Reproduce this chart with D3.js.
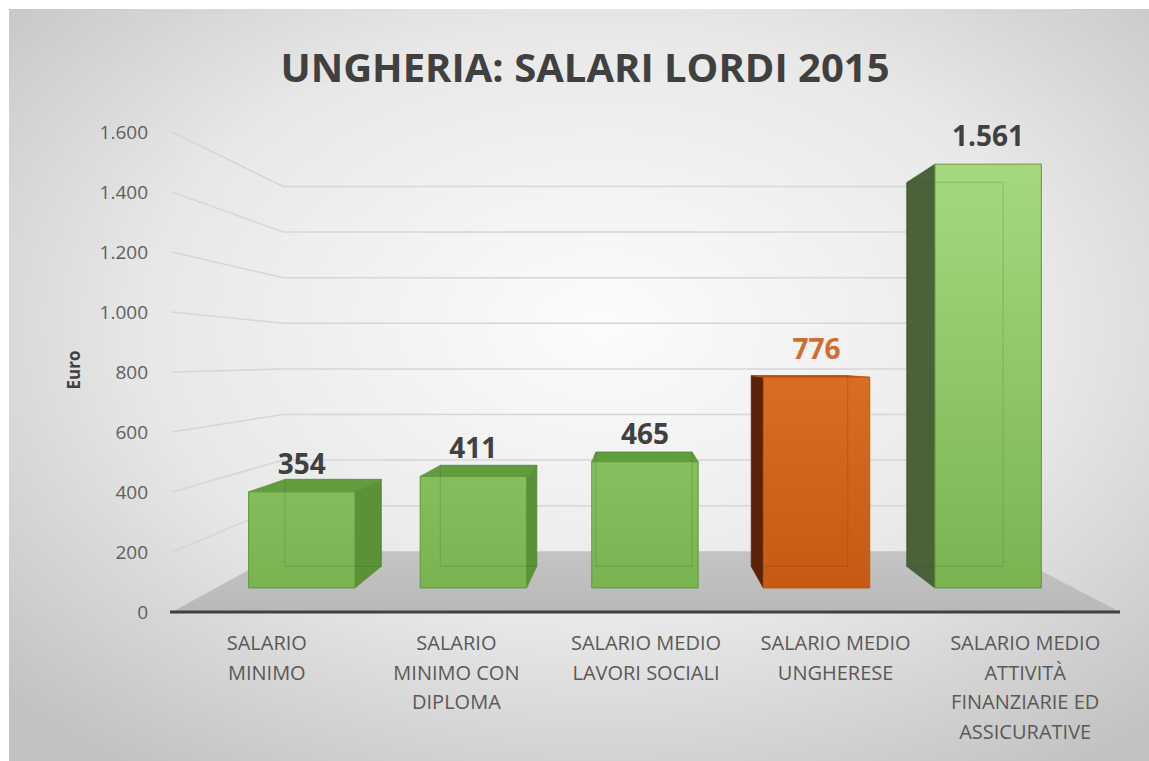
<!DOCTYPE html>
<html>
<head>
<meta charset="utf-8">
<script src="https://cdn.jsdelivr.net/npm/d3@7"></script>
<style>
  body { margin: 0; background: #fff; }
  text { font-family: "Open Sans", "DejaVu Sans", sans-serif; }
</style>
</head>
<body>
<svg width="1149" height="761"></svg>
<script>
// data
var categories = ["SALARIO MINIMO", "SALARIO MINIMO CON DIPLOMA", "SALARIO MEDIO LAVORI SOCIALI",
                  "SALARIO MEDIO UNGHERESE", "SALARIO MEDIO ATTIVITÀ FINANZIARIE ED ASSICURATIVE"];
var catLines = [["SALARIO", "MINIMO"], ["SALARIO", "MINIMO CON", "DIPLOMA"], ["SALARIO MEDIO", "LAVORI SOCIALI"],
                ["SALARIO MEDIO", "UNGHERESE"], ["SALARIO MEDIO", "ATTIVITÀ", "FINANZIARIE ED", "ASSICURATIVE"]];
var values = [354, 411, 465, 776, 1561];
var highlight = [0, 0, 0, 1, 0];
var ticks = [0, 200, 400, 600, 800, 1000, 1200, 1400, 1600];
var title = "UNGHERIA: SALARI LORDI 2015";
var yTitle = "Euro";

var it = d3.formatLocale({decimal: ",", thousands: ".", grouping: [3], currency: ["€", ""]});
var fmt = it.format(",d");

var svg = d3.select("svg");

// perspective settings
var vpX = 635, vpY = 359;      // vanishing point
var floorBack = 0.76, barFront = 0.905, barBack = 0.82;
function P(px, py, s) { return [vpX + s * (px - vpX), vpY + s * (py - vpY)]; }

var x = d3.scaleBand().domain(categories).range([172, 1120]).paddingInner(0.38).paddingOuter(0.19);
var y = d3.scaleLinear().domain([0, 1600]).range([612, 132]);

var defs = svg.append("defs");
var bg = defs.append("radialGradient").attr("id", "bg").attr("cx", "52%").attr("cy", "42%").attr("r", "72%");
bg.append("stop").attr("offset", "0%").attr("stop-color", "#fcfcfc");
bg.append("stop").attr("offset", "55%").attr("stop-color", "#e8e8e8");
bg.append("stop").attr("offset", "100%").attr("stop-color", "#c2c2c2");

var gf = defs.append("linearGradient").attr("id", "gFront").attr("gradientUnits", "userSpaceOnUse")
  .attr("x1", 0).attr("x2", 0).attr("y1", 160).attr("y2", 590);
gf.append("stop").attr("offset", "0%").attr("stop-color", "#a6d97f");
gf.append("stop").attr("offset", "100%").attr("stop-color", "#79b451");

var of = defs.append("linearGradient").attr("id", "oFront").attr("x1", 0).attr("x2", 0).attr("y1", 0).attr("y2", 1);
of.append("stop").attr("offset", "0%").attr("stop-color", "#d96d22");
of.append("stop").attr("offset", "100%").attr("stop-color", "#c65a12");

var floorG = defs.append("linearGradient").attr("id", "floorG").attr("x1", 0).attr("x2", 0).attr("y1", 0).attr("y2", 1);
floorG.append("stop").attr("offset", "0%").attr("stop-color", "#c4c4c4");
floorG.append("stop").attr("offset", "100%").attr("stop-color", "#b9b9b9");

svg.append("rect").attr("x", 9).attr("y", 9).attr("width", 1140).attr("height", 752).attr("fill", "url(#bg)");

// title
svg.append("text")
  .attr("x", 585).attr("y", 82)
  .attr("text-anchor", "middle")
  .attr("font-size", "40px")
  .attr("font-weight", "bold")
  .attr("fill", "#404040")
  .text(title);

var line = d3.line();
var xL = x.range()[0], xR = x.range()[1];

// floor
svg.append("path")
  .attr("d", line([P(xL, y(0), 1), P(xL, y(0), floorBack), P(xR, y(0), floorBack), P(xR, y(0), 1)]) + "Z")
  .attr("fill", "url(#floorG)");

// gridlines on side and back wall
svg.append("g").selectAll("path")
  .data(ticks.filter(function (d) { return d > 0; }))
  .enter()
  .append("path")
  .attr("d", function (d) {
    return line([P(xL, y(d), 1), P(xL, y(d), floorBack), P(xR, y(d), floorBack)]);
  })
  .attr("fill", "none")
  .attr("stroke", "#d6d6d6")
  .attr("stroke-width", 1.5);

// tick labels
svg.append("g").selectAll("text")
  .data(ticks)
  .enter()
  .append("text")
  .attr("x", 148)
  .attr("y", function (d) { return y(d) + 7; })
  .attr("text-anchor", "end")
  .attr("font-size", "19px")
  .attr("fill", "#5f5f5f")
  .text(function (d) { return fmt(d); });

svg.append("text")
  .attr("transform", "translate(80,370) rotate(-90)")
  .attr("text-anchor", "middle")
  .attr("font-size", "17px")
  .attr("font-weight", "bold")
  .attr("fill", "#404040")
  .text(yTitle);

// bars
var bw = x.bandwidth();
var bars = svg.append("g");
values.forEach(function (v, i) {
  var x0 = x(categories[i]), x1 = x0 + bw, yt = y(v), yb = y(0);
  var hot = highlight[i] === 1;
  var g = bars.append("g");
  var edge = hot ? "#c0580f" : "#5e973b";

  // faint back edges seen through the bar
  var backLines = [
    [P(x0, yt, barBack), P(x0, yb, barBack)],
    [P(x1, yt, barBack), P(x1, yb, barBack)],
    [P(x0, yt, barBack), P(x1, yt, barBack)],
    [P(x0, yb, barBack), P(x1, yb, barBack)]
  ];

  if (x1 < vpX) {
    g.append("path")
      .attr("d", line([P(x1, yt, barFront), P(x1, yt, barBack), P(x1, yb, barBack), P(x1, yb, barFront)]) + "Z")
      .attr("fill", hot ? "#7a2f08" : "#5b9238").attr("stroke", edge).attr("stroke-width", 0.8);
  }
  if (x0 > vpX) {
    g.append("path")
      .attr("d", line([P(x0, yt, barFront), P(x0, yt, barBack), P(x0, yb, barBack), P(x0, yb, barFront)]) + "Z")
      .attr("fill", hot ? "#5c2205" : "#4b6139").attr("stroke", hot ? "#5c2205" : "#4b6139").attr("stroke-width", 0.8);
  }
  if (yt > vpY) {
    g.append("path")
      .attr("d", line([P(x0, yt, barFront), P(x1, yt, barFront), P(x1, yt, barBack), P(x0, yt, barBack)]) + "Z")
      .attr("fill", hot ? "#b9520f" : "#619d3f").attr("stroke", edge).attr("stroke-width", 0.8);
  }
  g.append("path")
    .attr("d", line([P(x0, yt, barFront), P(x1, yt, barFront), P(x1, yb, barFront), P(x0, yb, barFront)]) + "Z")
    .attr("fill", hot ? "url(#oFront)" : "url(#gFront)")
    .attr("stroke", edge).attr("stroke-width", 1);

  g.selectAll("line.back")
    .data(backLines)
    .enter()
    .append("path")
    .attr("d", function (d) { return line(d); })
    .attr("stroke", hot ? "rgba(120,40,0,0.18)" : "rgba(40,90,20,0.18)")
    .attr("stroke-width", 1.2)
    .attr("fill", "none");

  var top = P((x0 + x1) / 2, yt, barFront);
  svg.append("text")
    .attr("x", top[0])
    .attr("y", top[1] - 18)
    .attr("text-anchor", "middle")
    .attr("font-size", "28px")
    .attr("font-weight", "bold")
    .attr("fill", hot ? "#cf6e30" : "#404040")
    .text(fmt(v));
});

// axis line
svg.append("line")
  .attr("x1", 170).attr("x2", xR)
  .attr("y1", y(0)).attr("y2", y(0))
  .attr("stroke", "#404040")
  .attr("stroke-width", 3);

// category labels
var cl = svg.append("g").selectAll("text")
  .data(categories)
  .enter()
  .append("text")
  .attr("text-anchor", "middle")
  .attr("font-size", "20px")
  .attr("fill", "#595959");
cl.each(function (d, i) {
  var t = d3.select(this);
  catLines[i].forEach(function (s, k) {
    t.append("tspan")
      .attr("x", x(d) + bw / 2)
      .attr("y", 650 + k * 29.5)
      .text(s);
  });
});
</script>
</body>
</html>
